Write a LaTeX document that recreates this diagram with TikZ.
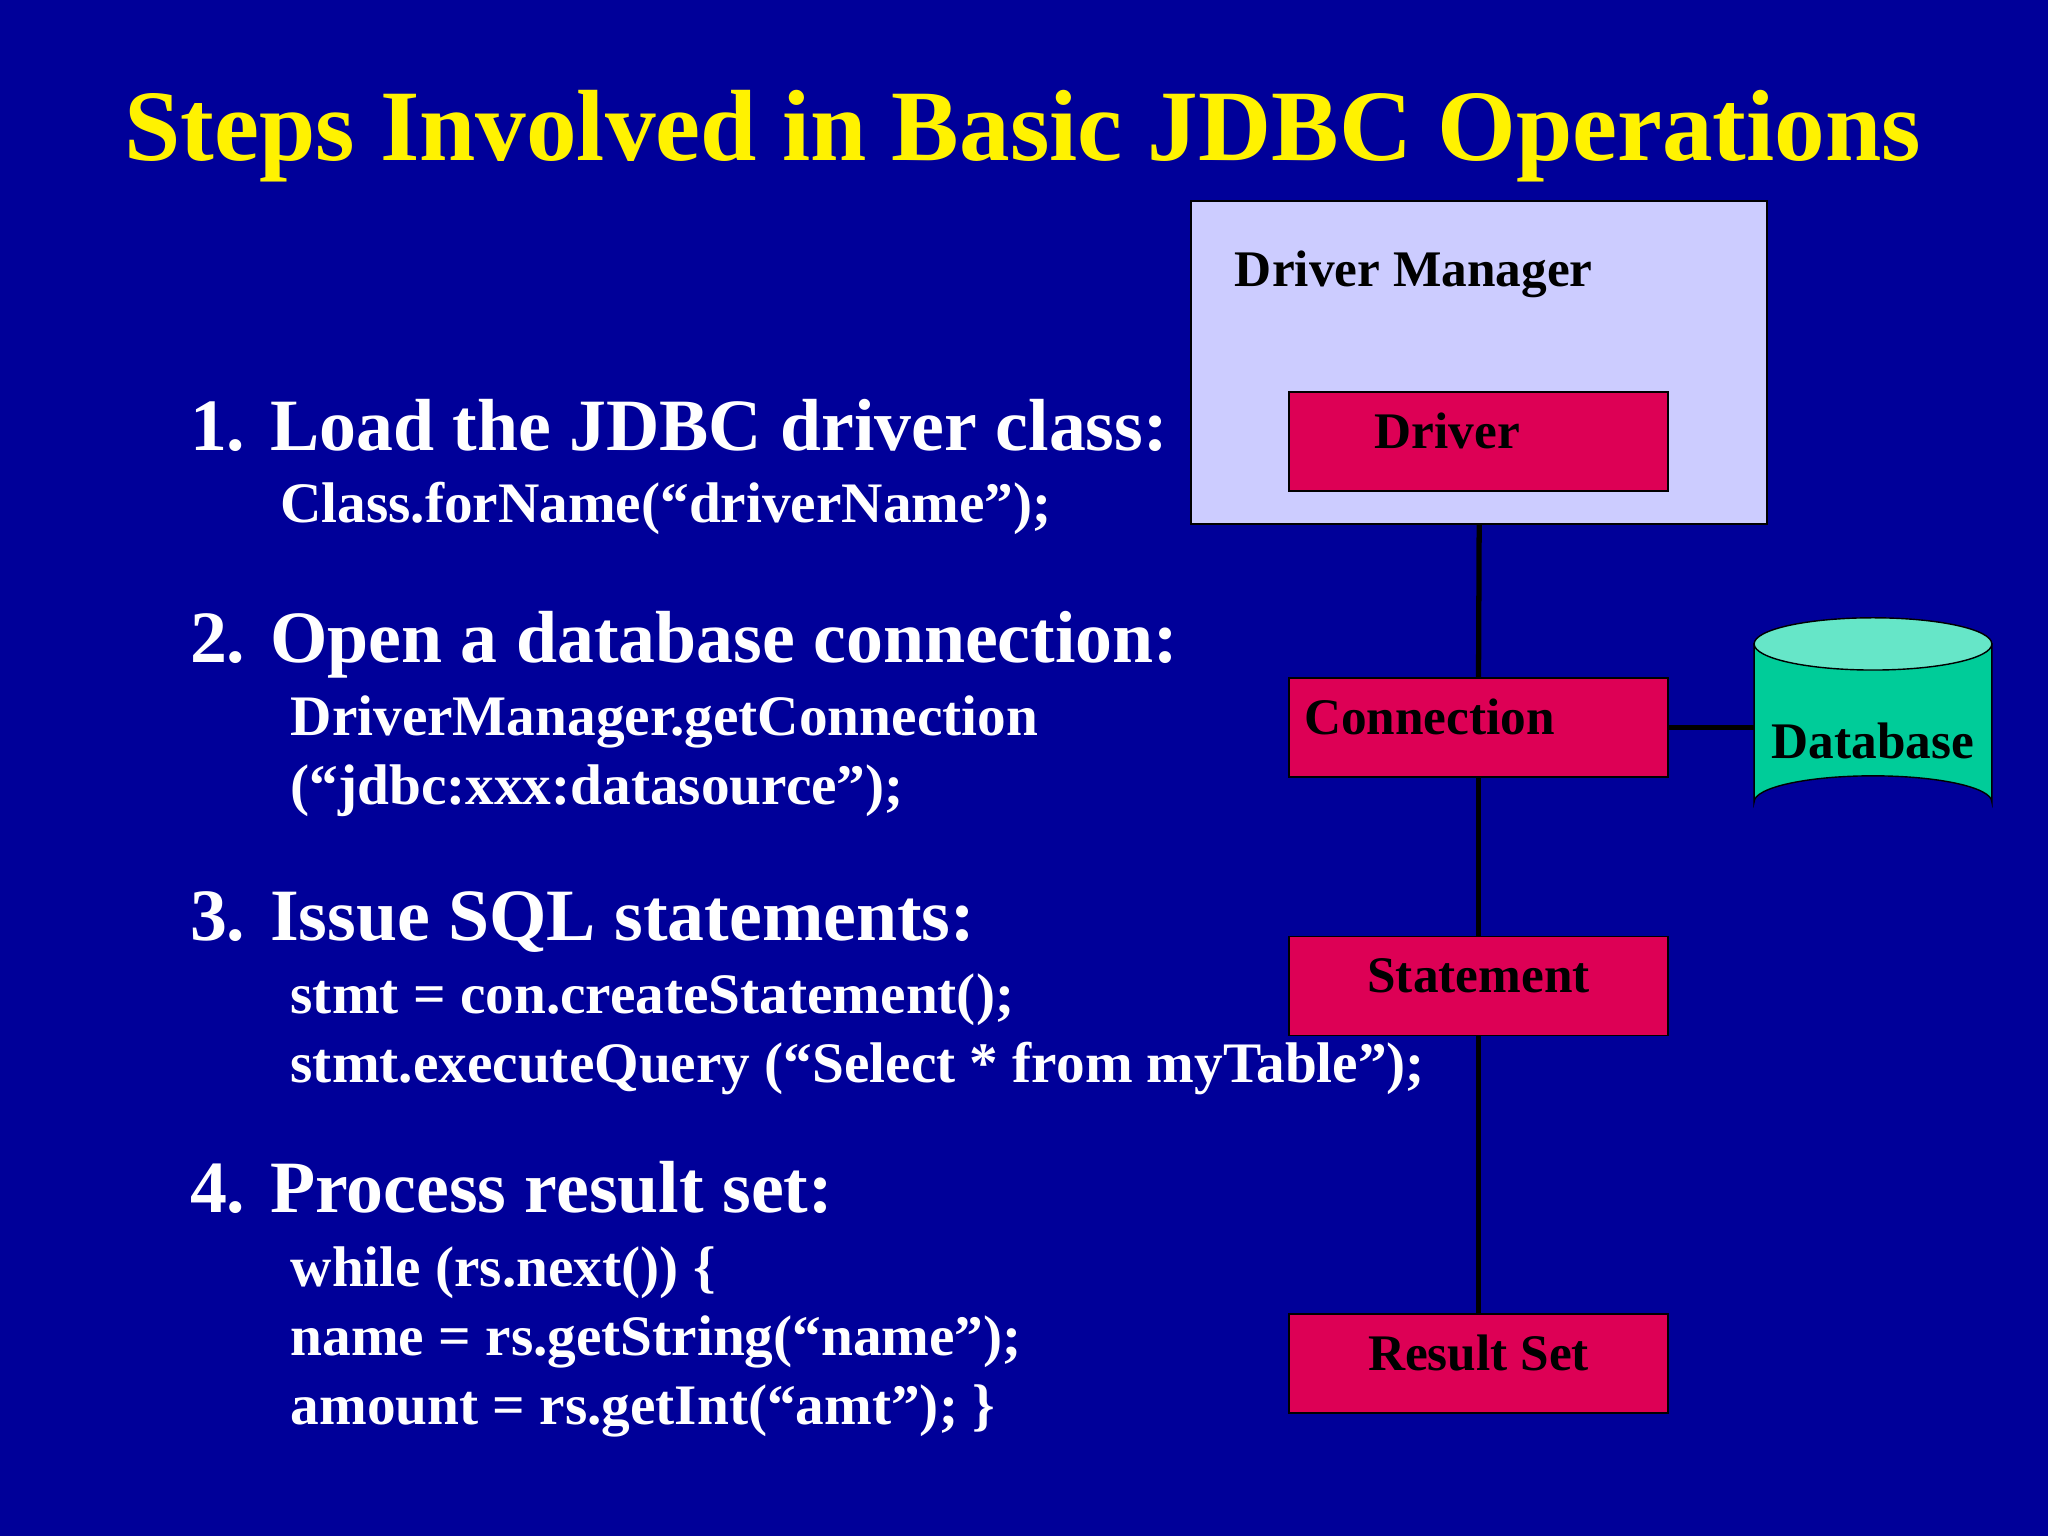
\documentclass[tikz,border=0pt]{standalone}
\usepackage{fontspec}
\setmainfont{Liberation Serif}
\usetikzlibrary{positioning, shapes.geometric}
\definecolor{slideblue}{RGB}{0,0,153}
\definecolor{mgrfill}{RGB}{204,204,255}
\definecolor{classred}{RGB}{221,0,85}
\definecolor{dbgreen}{RGB}{0,204,153}
\definecolor{dbtop}{RGB}{102,230,200}

\begin{document}
\begin{tikzpicture}[x=0.013061cm, y=-0.013061cm,
  classbox/.style={draw=black, fill=classred, minimum width=3.79cm, minimum height=0.99cm, inner sep=0pt},
  boxtext/.style={font=\fontsize{14.6}{16}\selectfont\bfseries, text=black, inner sep=0pt},
  steptitle/.style={anchor=base west, inner sep=0pt, text=white, font=\fontsize{21}{24}\selectfont\bfseries},
  codeline/.style={anchor=base west, inner sep=0pt, text=white, font=\fontsize{16.3}{18}\selectfont\bfseries},
  link/.style={line width=1.5pt}]

% Hintergrund
\fill[slideblue] (0,0) rectangle (1568,1176);
\useasboundingbox (0,0) rectangle (1568,1176);

% Titel
\node[anchor=base, inner sep=0pt, text=yellow, font=\fontsize{28.8}{34}\selectfont\bfseries] (title) at (783,123) {Steps Involved in Basic JDBC Operations};

% Driver Manager
\node[draw=black, fill=mgrfill, minimum width=5.76cm, minimum height=3.23cm, inner sep=0pt] (mgr) at (1132.5,277.5) {};
\node[boxtext, anchor=west] (mgrlabel) at (945,210) {Driver Manager};

% Klassen
\node[classbox] (drv) at (1132,338) {};
\node[boxtext] at (1108,330) {Driver};
\node[classbox] (conn) at (1132,557) {};
\node[boxtext, anchor=west] at (998,549) {Connection};
\node[classbox] (stmt) at (1132,755) {};
\node[boxtext] at (1132,747) {Statement};
\node[classbox] (rset) at (1132,1044) {};
\node[boxtext] at (1132,1036) {Result Set};

% Datenbank
\coordinate (db) at (1343,557);
\fill[dbgreen, draw=black] (1343,493) -- (1343,614) arc[start angle=180, end angle=360, x radius=91, y radius=20] -- (1525,493) -- cycle;
\draw[fill=dbtop] (1434,493) ellipse[x radius=91, y radius=20];
\node[boxtext] at (1434,567) {Database};

% Verbindungen
\draw[link] (mgr.south) -- (conn.north);
\draw[link] (conn.south) -- (stmt.north);
\draw[link] (stmt.south) -- (rset.north);
\draw[link] (conn.east) -- (db);

% Schritte
\node[steptitle] at (145,345) {1. Load the JDBC driver class:};
\node[codeline] at (214,400) {Class.forName(“driverName”);};

\node[steptitle] at (145,507) {2. Open a database connection:};
\node[codeline] at (222,563) {DriverManager.getConnection};
\node[codeline] at (222,616) {(“jdbc:xxx:datasource”);};

\node[steptitle] at (145,720) {3. Issue SQL statements:};
\node[codeline] at (222,776) {stmt = con.createStatement();};
\node[codeline] at (222,829) {stmt.executeQuery (“Select * from myTable”);};

\node[steptitle] at (145,928) {4. Process result set:};
\node[codeline] at (222,985) {while (rs.next()) \{};
\node[codeline] at (222,1038) {name = rs.getString(“name”);};
\node[codeline] at (222,1091) {amount = rs.getInt(“amt”); \}};

\end{tikzpicture}
\end{document}
